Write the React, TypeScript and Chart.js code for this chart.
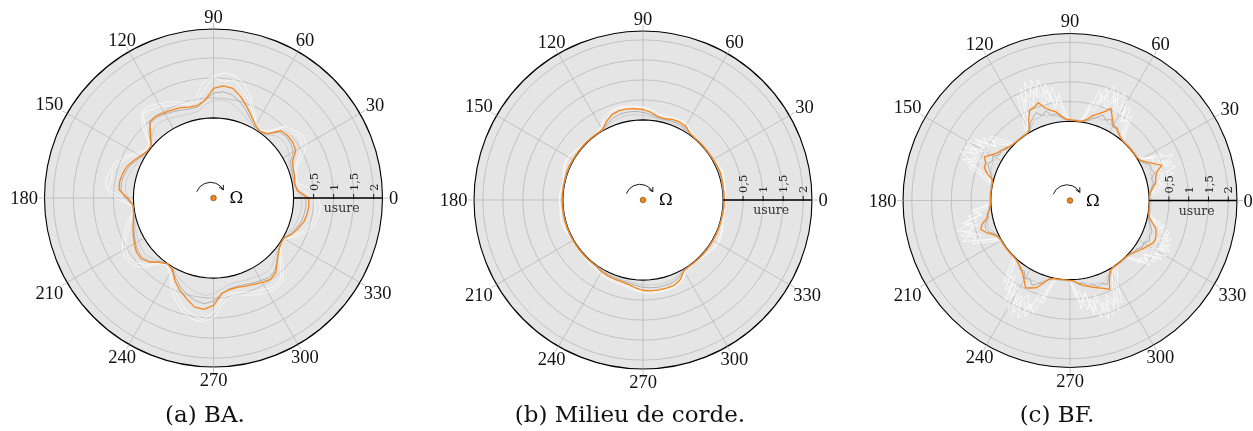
import React, { useEffect, useRef } from 'react';
import { Chart, registerables } from 'chart.js';

Chart.register(...registerables);

const W = 1253;
const H = 431;

// angular categories (degrees, counter-clockwise from the right)
const ANGLES_5: number[] = Array.from({ length: 72 }, (_, i) => i * 5);
const ANGLES_3: number[] = Array.from({ length: 120 }, (_, i) => i * 3);
const ANGLE_TICKS = [0, 30, 60, 90, 120, 150, 180, 210, 240, 270, 300, 330];
const WEAR_TICKS = [0.5, 1, 1.5, 2];
const WEAR_TICK_LABELS = ['0,5', '1', '1,5', '2'];
const WEAR_MIN = -2;
const WEAR_MAX = 2.22;
const PROFILE_WEAR = 0;
const AXIS_TITLE = 'usure';
const CAPTIONS = ['(a) BA.', '(b) Milieu de corde.', '(c) BF.'];

// ---------- (a) BA : 5 degree steps ----------
const BA_ORANGE = [
  0.38, 0.10, 0.06, 0.10, 0.12, 0.18, 0.37, 0.42, 0.42, 0.38, 0.10, 0.03,
  0.10, 0.25, 0.43, 0.62, 0.78, 0.81, 0.74, 0.45, 0.34, 0.35, 0.40, 0.43,
  0.46, 0.50, 0.48, 0.22, 0.03, 0.03, 0.10, 0.20, 0.30, 0.35, 0.38, 0.37,
  0.15, 0.02, 0.03, 0.07, 0.14, 0.21, 0.28, 0.35, 0.36, 0.26, 0.10, 0.01,
  0.06, 0.28, 0.45, 0.60, 0.76, 0.79, 0.68, 0.39, 0.32, 0.31, 0.34, 0.38,
  0.43, 0.48, 0.42, 0.25, 0.12, 0.04, 0.02, 0.15, 0.24, 0.33, 0.37, 0.39,
];
const BA_WHITE1 = [
  0.62, 0.45, 0.15, 0.12, 0.20, 0.45, 0.68, 0.72, 0.62, 0.55, 0.20, 0.05,
  0.15, 0.40, 0.70, 0.95, 1.10, 1.14, 1.05, 0.90, 0.55, 0.45, 0.55, 0.65,
  0.72, 0.80, 0.78, 0.50, 0.10, 0.08, 0.25, 0.45, 0.60, 0.68, 0.72, 0.70,
  0.45, 0.08, 0.05, 0.20, 0.35, 0.50, 0.62, 0.67, 0.62, 0.45, 0.15, 0.03,
  0.20, 0.50, 0.75, 0.95, 1.08, 1.10, 1.00, 0.65, 0.50, 0.50, 0.58, 0.66,
  0.72, 0.76, 0.70, 0.45, 0.20, 0.05, 0.05, 0.30, 0.48, 0.60, 0.66, 0.68,
];
const BA_WHITE2 = [
  0.50, 0.25, 0.10, 0.14, 0.16, 0.35, 0.55, 0.66, 0.50, 0.50, 0.14, 0.04,
  0.12, 0.32, 0.60, 0.78, 1.00, 0.92, 1.02, 0.70, 0.45, 0.40, 0.50, 0.55,
  0.65, 0.70, 0.74, 0.38, 0.06, 0.05, 0.18, 0.38, 0.50, 0.62, 0.58, 0.65,
  0.30, 0.05, 0.04, 0.14, 0.26, 0.42, 0.52, 0.60, 0.52, 0.36, 0.12, 0.02,
  0.14, 0.40, 0.62, 0.85, 0.96, 1.04, 0.86, 0.52, 0.42, 0.44, 0.50, 0.58,
  0.62, 0.70, 0.60, 0.36, 0.15, 0.04, 0.04, 0.22, 0.40, 0.52, 0.58, 0.56,
];
const BA_GRAY1 = [
  0.30, 0.12, 0.05, 0.06, 0.08, 0.12, 0.30, 0.36, 0.38, 0.33, 0.08, 0.02,
  0.06, 0.18, 0.35, 0.50, 0.62, 0.66, 0.62, 0.45, 0.30, 0.30, 0.34, 0.38,
  0.42, 0.46, 0.44, 0.28, 0.03, 0.02, 0.08, 0.16, 0.25, 0.30, 0.33, 0.32,
  0.20, 0.03, 0.02, 0.06, 0.12, 0.18, 0.25, 0.30, 0.32, 0.24, 0.08, 0.01,
  0.05, 0.22, 0.38, 0.50, 0.60, 0.65, 0.58, 0.40, 0.30, 0.28, 0.30, 0.34,
  0.38, 0.42, 0.38, 0.24, 0.10, 0.03, 0.02, 0.12, 0.20, 0.27, 0.30, 0.32,
];
const BA_GRAY2 = [
  0.20, 0.10, 0.04, 0.04, 0.05, 0.08, 0.18, 0.24, 0.25, 0.20, 0.06, 0.02,
  0.04, 0.10, 0.20, 0.32, 0.42, 0.46, 0.44, 0.34, 0.20, 0.18, 0.20, 0.24,
  0.28, 0.32, 0.30, 0.18, 0.03, 0.02, 0.05, 0.10, 0.15, 0.20, 0.22, 0.21,
  0.12, 0.02, 0.02, 0.04, 0.08, 0.12, 0.16, 0.20, 0.21, 0.15, 0.05, 0.01,
  0.03, 0.14, 0.24, 0.33, 0.40, 0.44, 0.40, 0.28, 0.20, 0.18, 0.20, 0.22,
  0.25, 0.28, 0.25, 0.15, 0.06, 0.02, 0.02, 0.08, 0.13, 0.17, 0.20, 0.21,
];

// ---------- (b) Milieu de corde : 5 degree steps ----------
const MC_ORANGE = [
  0.03, 0.03, 0.03, 0.04, 0.05, 0.04, 0.03, 0.02, 0.02, 0.02, 0.02, 0.04,
  0.13, 0.15, 0.14, 0.10, 0.12, 0.20, 0.26, 0.29, 0.31, 0.31, 0.27, 0.16,
  0.03, 0.02, 0.02, 0.02, 0.02, 0.02, 0.02, 0.03, 0.03, 0.02, 0.02, 0.02,
  0.02, 0.02, 0.02, 0.02, 0.02, 0.02, 0.02, 0.02, 0.02, 0.02, 0.02, 0.03,
  0.07, 0.09, 0.10, 0.11, 0.14, 0.20, 0.26, 0.28, 0.28, 0.28, 0.27, 0.20,
  0.04, 0.02, 0.02, 0.02, 0.02, 0.02, 0.02, 0.02, 0.02, 0.02, 0.02, 0.03,
];
const MC_WHITE1 = [
  0.06, 0.07, 0.08, 0.10, 0.12, 0.09, 0.05, 0.03, 0.03, 0.04, 0.06, 0.10,
  0.20, 0.22, 0.20, 0.17, 0.20, 0.28, 0.33, 0.36, 0.38, 0.40, 0.38, 0.30,
  0.10, 0.04, 0.03, 0.04, 0.06, 0.10, 0.16, 0.17, 0.12, 0.06, 0.05, 0.08,
  0.10, 0.08, 0.10, 0.12, 0.10, 0.05, 0.03, 0.03, 0.04, 0.06, 0.08, 0.10,
  0.14, 0.16, 0.17, 0.18, 0.22, 0.27, 0.32, 0.34, 0.34, 0.33, 0.32, 0.26,
  0.12, 0.05, 0.04, 0.06, 0.10, 0.14, 0.17, 0.16, 0.12, 0.07, 0.05, 0.05,
];
const MC_WHITE2 = [
  0.04, 0.05, 0.06, 0.08, 0.09, 0.07, 0.04, 0.02, 0.02, 0.03, 0.04, 0.07,
  0.16, 0.19, 0.17, 0.13, 0.16, 0.24, 0.30, 0.33, 0.35, 0.36, 0.33, 0.22,
  0.06, 0.03, 0.02, 0.03, 0.05, 0.08, 0.13, 0.14, 0.10, 0.05, 0.04, 0.06,
  0.08, 0.06, 0.08, 0.10, 0.08, 0.04, 0.02, 0.02, 0.03, 0.04, 0.05, 0.07,
  0.10, 0.12, 0.13, 0.14, 0.18, 0.23, 0.29, 0.31, 0.31, 0.31, 0.30, 0.23,
  0.08, 0.04, 0.03, 0.05, 0.08, 0.11, 0.14, 0.13, 0.09, 0.05, 0.04, 0.04,
];
const MC_GRAY1 = [
  0.02, 0.02, 0.02, 0.03, 0.03, 0.03, 0.02, 0.02, 0.02, 0.02, 0.02, 0.03,
  0.08, 0.10, 0.10, 0.08, 0.09, 0.14, 0.19, 0.22, 0.23, 0.22, 0.18, 0.10,
  0.02, 0.02, 0.02, 0.02, 0.02, 0.02, 0.02, 0.02, 0.02, 0.02, 0.02, 0.02,
  0.02, 0.02, 0.02, 0.02, 0.02, 0.02, 0.02, 0.02, 0.02, 0.02, 0.02, 0.02,
  0.04, 0.06, 0.07, 0.08, 0.10, 0.14, 0.18, 0.20, 0.21, 0.20, 0.19, 0.13,
  0.03, 0.02, 0.02, 0.02, 0.02, 0.02, 0.02, 0.02, 0.02, 0.02, 0.02, 0.02,
];
const MC_GRAY2 = [
  0.01, 0.01, 0.01, 0.02, 0.02, 0.02, 0.01, 0.01, 0.01, 0.01, 0.01, 0.02,
  0.05, 0.06, 0.06, 0.05, 0.06, 0.09, 0.12, 0.14, 0.15, 0.14, 0.11, 0.06,
  0.01, 0.01, 0.01, 0.01, 0.01, 0.01, 0.01, 0.01, 0.01, 0.01, 0.01, 0.01,
  0.01, 0.01, 0.01, 0.01, 0.01, 0.01, 0.01, 0.01, 0.01, 0.01, 0.01, 0.01,
  0.02, 0.04, 0.05, 0.05, 0.06, 0.09, 0.12, 0.13, 0.14, 0.13, 0.12, 0.08,
  0.02, 0.01, 0.01, 0.01, 0.01, 0.01, 0.01, 0.01, 0.01, 0.01, 0.01, 0.01,
];

// ---------- (c) BF : 3 degree steps ----------
const BF_ORANGE = [
  0.01, 0.01, 0.04, 0.13, 0.22, 0.24, 0.30, 0.48, 0.30, 0.15,
  0.04, 0.01, 0.01, 0.01, 0.01, 0.01, 0.01, 0.03, 0.10, 0.16,
  0.20, 0.35, 0.55, 0.40, 0.30, 0.22, 0.10, 0.03, 0.02, 0.03,
  0.04, 0.06, 0.15, 0.27, 0.33, 0.42, 0.60, 0.52, 0.50, 0.30,
  0.05, 0.01, 0.01, 0.01, 0.01, 0.02, 0.05, 0.10, 0.15, 0.20,
  0.30, 0.43, 0.33, 0.32, 0.20, 0.03, 0.01, 0.01, 0.01, 0.01,
  0.01, 0.01, 0.04, 0.10, 0.15, 0.30, 0.37, 0.26, 0.12, 0.03,
  0.01, 0.01, 0.01, 0.01, 0.01, 0.01, 0.02, 0.06, 0.12, 0.20,
  0.32, 0.48, 0.42, 0.36, 0.20, 0.06, 0.01, 0.01, 0.01, 0.01,
  0.02, 0.04, 0.12, 0.18, 0.22, 0.27, 0.32, 0.38, 0.46, 0.20,
  0.04, 0.01, 0.01, 0.01, 0.01, 0.01, 0.03, 0.08, 0.15, 0.22,
  0.28, 0.36, 0.37, 0.33, 0.28, 0.15, 0.05, 0.02, 0.01, 0.01,
];
const BF_WHITE1 = [
  0.03, 0.03, 0.08, 0.20, 0.60, 0.35, 0.80, 0.50, 0.85, 0.40,
  0.15, 0.03, 0.03, 0.03, 0.03, 0.03, 0.03, 0.08, 0.30, 0.80,
  0.50, 1.05, 0.70, 1.10, 0.60, 0.90, 0.30, 0.08, 0.03, 0.03,
  0.03, 0.08, 0.30, 0.90, 0.55, 1.15, 0.75, 1.20, 0.70, 0.95,
  0.20, 0.04, 0.03, 0.03, 0.03, 0.03, 0.08, 0.25, 0.70, 0.45,
  1.00, 0.60, 1.05, 0.55, 0.70, 0.15, 0.03, 0.03, 0.03, 0.03,
  0.03, 0.03, 0.20, 0.60, 0.40, 0.95, 0.60, 0.90, 0.45, 0.15,
  0.03, 0.03, 0.03, 0.03, 0.03, 0.03, 0.08, 0.30, 0.80, 0.50,
  1.15, 0.70, 1.25, 0.80, 1.00, 0.40, 0.10, 0.03, 0.03, 0.03,
  0.03, 0.20, 0.60, 0.40, 0.95, 0.60, 1.15, 0.70, 1.05, 0.60,
  0.30, 0.05, 0.03, 0.03, 0.03, 0.03, 0.15, 0.50, 0.35, 0.75,
  0.50, 0.82, 0.55, 0.75, 0.45, 0.35, 0.10, 0.03, 0.03, 0.03,
];
const BF_WHITE2 = [
  0.04, 0.04, 0.12, 0.35, 0.30, 0.70, 0.45, 0.75, 0.45, 0.60,
  0.10, 0.04, 0.04, 0.04, 0.04, 0.04, 0.04, 0.15, 0.50, 0.40,
  0.90, 0.60, 1.00, 0.65, 1.00, 0.50, 0.55, 0.12, 0.04, 0.04,
  0.04, 0.15, 0.55, 0.45, 1.00, 0.70, 1.20, 0.80, 1.10, 0.50,
  0.40, 0.06, 0.04, 0.04, 0.04, 0.04, 0.12, 0.45, 0.35, 0.85,
  0.55, 1.00, 0.60, 0.90, 0.40, 0.30, 0.04, 0.04, 0.04, 0.04,
  0.04, 0.04, 0.40, 0.30, 0.80, 0.50, 0.90, 0.55, 0.70, 0.30,
  0.04, 0.04, 0.04, 0.04, 0.04, 0.04, 0.12, 0.50, 0.45, 1.00,
  0.70, 1.20, 0.80, 1.15, 0.60, 0.70, 0.20, 0.04, 0.04, 0.04,
  0.04, 0.40, 0.30, 0.80, 0.55, 1.05, 0.70, 1.10, 0.70, 0.90,
  0.40, 0.20, 0.04, 0.04, 0.04, 0.04, 0.35, 0.30, 0.65, 0.45,
  0.80, 0.55, 0.80, 0.50, 0.65, 0.20, 0.20, 0.04, 0.04, 0.04,
];
const BF_WHITE3 = [
  0.03, 0.05, 0.25, 0.45, 0.25, 0.55, 0.30, 0.65, 0.30, 0.35,
  0.08, 0.03, 0.03, 0.03, 0.03, 0.03, 0.05, 0.25, 0.65, 0.35,
  0.75, 0.45, 0.85, 0.50, 0.80, 0.35, 0.40, 0.06, 0.03, 0.03,
  0.03, 0.25, 0.70, 0.35, 0.85, 0.50, 0.95, 0.60, 0.85, 0.35,
  0.15, 0.03, 0.03, 0.03, 0.03, 0.05, 0.30, 0.60, 0.30, 0.75,
  0.45, 0.85, 0.45, 0.75, 0.30, 0.10, 0.03, 0.03, 0.03, 0.03,
  0.03, 0.10, 0.50, 0.25, 0.70, 0.40, 0.75, 0.40, 0.55, 0.10,
  0.03, 0.03, 0.03, 0.03, 0.03, 0.05, 0.30, 0.65, 0.35, 0.85,
  0.55, 1.00, 0.60, 0.95, 0.45, 0.55, 0.08, 0.03, 0.03, 0.03,
  0.05, 0.30, 0.75, 0.35, 0.85, 0.45, 0.95, 0.55, 0.85, 0.35,
  0.15, 0.03, 0.03, 0.03, 0.03, 0.05, 0.25, 0.60, 0.30, 0.65,
  0.40, 0.70, 0.40, 0.65, 0.35, 0.50, 0.08, 0.03, 0.03, 0.03,
];
const BF_GRAY1 = [
  0.02, 0.02, 0.04, 0.08, 0.18, 0.12, 0.25, 0.20, 0.22, 0.10,
  0.03, 0.02, 0.02, 0.02, 0.02, 0.02, 0.02, 0.04, 0.08, 0.20,
  0.15, 0.30, 0.22, 0.32, 0.20, 0.15, 0.05, 0.02, 0.02, 0.02,
  0.02, 0.04, 0.10, 0.22, 0.18, 0.35, 0.25, 0.38, 0.30, 0.20,
  0.04, 0.02, 0.02, 0.02, 0.02, 0.02, 0.03, 0.06, 0.15, 0.12,
  0.25, 0.20, 0.28, 0.18, 0.10, 0.03, 0.02, 0.02, 0.02, 0.02,
  0.02, 0.02, 0.04, 0.12, 0.10, 0.22, 0.25, 0.20, 0.08, 0.02,
  0.02, 0.02, 0.02, 0.02, 0.02, 0.02, 0.02, 0.06, 0.15, 0.12,
  0.28, 0.22, 0.35, 0.25, 0.18, 0.05, 0.02, 0.02, 0.02, 0.02,
  0.02, 0.04, 0.12, 0.10, 0.22, 0.18, 0.30, 0.25, 0.32, 0.15,
  0.03, 0.01, 0.02, 0.02, 0.02, 0.02, 0.03, 0.10, 0.08, 0.18,
  0.15, 0.25, 0.20, 0.22, 0.15, 0.08, 0.03, 0.02, 0.02, 0.02,
];
const BF_GRAY2 = [
  0.05, 0.05, 0.06, 0.10, 0.12, 0.16, 0.14, 0.18, 0.12, 0.08,
  0.05, 0.04, 0.04, 0.04, 0.04, 0.05, 0.05, 0.07, 0.12, 0.14,
  0.20, 0.16, 0.24, 0.18, 0.22, 0.10, 0.08, 0.05, 0.05, 0.05,
  0.06, 0.08, 0.14, 0.15, 0.24, 0.20, 0.28, 0.22, 0.24, 0.12,
  0.06, 0.05, 0.04, 0.04, 0.04, 0.05, 0.06, 0.10, 0.10, 0.16,
  0.14, 0.18, 0.16, 0.14, 0.07, 0.05, 0.04, 0.04, 0.04, 0.04,
  0.04, 0.05, 0.07, 0.08, 0.14, 0.16, 0.18, 0.12, 0.06, 0.05,
  0.04, 0.04, 0.04, 0.04, 0.04, 0.05, 0.05, 0.08, 0.10, 0.18,
  0.20, 0.26, 0.22, 0.24, 0.12, 0.08, 0.05, 0.04, 0.04, 0.04,
  0.05, 0.06, 0.08, 0.14, 0.14, 0.22, 0.20, 0.24, 0.20, 0.12,
  0.06, 0.04, 0.04, 0.04, 0.04, 0.05, 0.06, 0.07, 0.12, 0.12,
  0.18, 0.16, 0.20, 0.14, 0.12, 0.06, 0.05, 0.05, 0.05, 0.05,
];

// ---------- styles ----------
const ORANGE = '#f7861a';
const BG = '#e5e5e5';
const GRID = '#bdbdbd';
const WHITE = '#ffffff';
const GRAY_DARK = '#9a9a9a';
const GRAY_LIGHT = '#c4c4c4';

type Series = { data: number[]; color: string; width: number };
type Panel = {
  key: string;
  cx: number;
  cy: number;
  R: number;
  angles: number[];
  series: Series[];
  caption: string;
  capX: number;
};

const PANELS: Panel[] = [
  {
    key: 'a', cx: 213.5, cy: 198, R: 169, angles: ANGLES_5, caption: CAPTIONS[0], capX: 205,
    series: [
      { data: BA_ORANGE, color: ORANGE, width: 1.3 },
      { data: BA_GRAY1, color: GRAY_DARK, width: 0.7 },
      { data: BA_GRAY2, color: GRAY_LIGHT, width: 0.7 },
      { data: BA_WHITE2, color: WHITE, width: 0.7 },
      { data: BA_WHITE1, color: WHITE, width: 0.7 },
    ],
  },
  {
    key: 'b', cx: 643, cy: 200, R: 169, angles: ANGLES_5, caption: CAPTIONS[1], capX: 630,
    series: [
      { data: MC_ORANGE, color: ORANGE, width: 1.3 },
      { data: MC_GRAY1, color: GRAY_DARK, width: 0.7 },
      { data: MC_GRAY2, color: GRAY_LIGHT, width: 0.7 },
      { data: MC_WHITE2, color: WHITE, width: 0.7 },
      { data: MC_WHITE1, color: WHITE, width: 0.7 },
    ],
  },
  {
    key: 'c', cx: 1070, cy: 200.5, R: 167, angles: ANGLES_3, caption: CAPTIONS[2], capX: 1057,
    series: [
      { data: BF_ORANGE, color: ORANGE, width: 1.3 },
      { data: BF_GRAY1, color: GRAY_DARK, width: 0.7 },
      { data: BF_GRAY2, color: GRAY_LIGHT, width: 0.7 },
      { data: BF_WHITE3, color: WHITE, width: 0.7 },
      { data: BF_WHITE2, color: WHITE, width: 0.7 },
      { data: BF_WHITE1, color: WHITE, width: 0.7 },
    ],
  },
];

const rad = (d: number) => (d * Math.PI) / 180;

function makeDeco(p: Panel) {
  return {
    id: 'deco_' + p.key,
    afterLayout(chart: any) {
      const s = chart.scales.r;
      s.xCenter = p.cx;
      s.yCenter = p.cy;
      s.drawingArea = p.R;
    },
    afterDatasetsDraw(chart: any) {
      const s = chart.scales.r;
      const ctx: CanvasRenderingContext2D = chart.ctx;
      const cx = s.xCenter;
      const cy = s.yCenter;
      const rOut = s.getDistanceFromCenterForValue(WEAR_MAX);
      const r0 = s.getDistanceFromCenterForValue(PROFILE_WEAR);
      ctx.save();
      ctx.lineCap = 'butt';

      // outer frame
      ctx.beginPath();
      ctx.arc(cx, cy, rOut, 0, Math.PI * 2);
      ctx.strokeStyle = '#000';
      ctx.lineWidth = 1.1;
      ctx.stroke();

      // angular ticks + labels
      const fs = 18.5;
      ctx.font = `${fs}px "Liberation Serif"`;
      ctx.fillStyle = '#111';
      ctx.textAlign = 'center';
      ctx.textBaseline = 'alphabetic';
      const digitH = fs * 0.676;
      for (const a of ANGLE_TICKS) {
        const t = rad(a);
        const c = Math.cos(t);
        const sn = Math.sin(t);
        ctx.beginPath();
        ctx.moveTo(cx + c * rOut, cy - sn * rOut);
        ctx.lineTo(cx + c * (rOut + 6), cy - sn * (rOut + 6));
        ctx.strokeStyle = GRID;
        ctx.lineWidth = 0.9;
        ctx.stroke();
        const txt = String(a);
        const w = ctx.measureText(txt).width;
        const hw = w / 2 + 1.5;
        const hh = digitH / 2 + 1.5;
        const d = Math.min(
          Math.abs(c) > 1e-6 ? hw / Math.abs(c) : 1e9,
          Math.abs(sn) > 1e-6 ? hh / Math.abs(sn) : 1e9
        );
        const pr = rOut + 5 + d;
        ctx.fillText(txt, cx + c * pr, cy - sn * pr + digitH / 2);
      }

      // wear axis
      ctx.strokeStyle = '#000';
      ctx.lineWidth = 1.4;
      ctx.beginPath();
      ctx.moveTo(cx + r0, cy);
      ctx.lineTo(cx + rOut, cy);
      ctx.stroke();
      ctx.lineWidth = 0.9;
      const tfs = 11.5;
      ctx.font = `${tfs}px "DejaVu Serif", serif`;
      ctx.textAlign = 'left';
      ctx.fillStyle = '#222';
      WEAR_TICKS.forEach((v, k) => {
        const x = cx + s.getDistanceFromCenterForValue(v);
        ctx.beginPath();
        ctx.moveTo(x, cy - 4);
        ctx.lineTo(x, cy + 1);
        ctx.stroke();
        ctx.save();
        ctx.translate(x + (tfs * 0.729) / 2, cy - 7);
        ctx.rotate(-Math.PI / 2);
        ctx.fillText(WEAR_TICK_LABELS[k], 0, 0);
        ctx.restore();
      });
      ctx.font = '12.5px "DejaVu Serif", serif';
      ctx.textAlign = 'center';
      ctx.fillStyle = '#333';
      ctx.fillText(AXIS_TITLE, cx + s.getDistanceFromCenterForValue(1.2), cy + 14);

      // centre: rotation arrow, dot, Omega
      const ax = cx - 3;
      const ay = cy - 1;
      const ar = 14.7;
      const a0 = rad(201);
      const a1 = rad(331);
      ctx.strokeStyle = '#000';
      ctx.lineWidth = 0.9;
      ctx.beginPath();
      ctx.arc(ax, ay, ar, a0, a1);
      ctx.stroke();
      const tx = ax + ar * Math.cos(a1);
      const ty = ay + ar * Math.sin(a1);
      const dir = Math.atan2(Math.cos(a1), -Math.sin(a1));
      ctx.beginPath();
      for (const sg of [1, -1]) {
        const ang = dir + Math.PI + sg * 0.5;
        ctx.moveTo(tx, ty);
        ctx.lineTo(tx + 5 * Math.cos(ang), ty + 5 * Math.sin(ang));
      }
      ctx.stroke();

      ctx.beginPath();
      ctx.arc(cx, cy, 2.8, 0, Math.PI * 2);
      ctx.fillStyle = ORANGE;
      ctx.fill();
      ctx.strokeStyle = '#5a3a10';
      ctx.lineWidth = 0.6;
      ctx.stroke();

      ctx.font = '16.5px "DejaVu Serif", serif';
      ctx.textAlign = 'left';
      ctx.fillStyle = '#000';
      ctx.fillText('\u03A9', cx + 16, cy + 5.2);

      ctx.restore();
    },
  };
}

function PolarPanel({ panel }: { panel: Panel }) {
  const ref = useRef<HTMLCanvasElement | null>(null);
  useEffect(() => {
    const canvas = ref.current;
    if (!canvas) return;
    const n = panel.angles.length;
    // radar runs clockwise from startAngle; reorder so angles run counter-clockwise
    const rev = (arr: any[]) => arr.map((_, i) => arr[(n - i) % n]);
    const labels = rev(panel.angles);
    const datasets: any[] = panel.series.map((s) => ({
      data: rev(s.data),
      borderColor: s.color,
      borderWidth: s.width,
      pointRadius: 0,
      fill: false,
      tension: 0,
      borderJoinStyle: 'round',
    }));
    datasets.push({
      data: panel.angles.map(() => PROFILE_WEAR),
      borderColor: '#000',
      borderWidth: 1.1,
      backgroundColor: '#ffffff',
      fill: 'start',
      pointRadius: 0,
      tension: 0,
    });
    const isMajor = (i: number) => labels[i] % 30 === 0;
    const chart = new Chart(canvas, {
      type: 'radar',
      data: { labels, datasets },
      options: {
        responsive: false,
        maintainAspectRatio: false,
        animation: false,
        events: [],
        layout: { padding: 0 },
        plugins: { legend: { display: false }, tooltip: { enabled: false } },
        scales: {
          r: {
            min: WEAR_MIN,
            max: WEAR_MAX,
            startAngle: 90,
            bounds: 'data',
            backgroundColor: BG,
            grid: { circular: true, color: GRID, lineWidth: 0.9 },
            angleLines: {
              display: true,
              color: (c: any) => (isMajor(c.index) ? GRID : 'rgba(0,0,0,0)'),
              lineWidth: (c: any) => (isMajor(c.index) ? 0.9 : 0),
            },
            pointLabels: { display: false },
            ticks: { display: false, stepSize: 0.5, includeBounds: false },
          },
        },
      } as any,
      plugins: [makeDeco(panel)],
    });
    return () => chart.destroy();
  }, [panel]);
  return (
    <canvas
      ref={ref}
      width={W}
      height={H}
      style={{ position: 'absolute', left: 0, top: 0, width: W, height: H }}
    />
  );
}

export default function App() {
  return (
    <div style={{ position: 'absolute', left: 0, top: 0, width: W, height: H, background: '#fff', overflow: 'hidden' }}>
      {PANELS.map((p) => (
        <PolarPanel key={p.key} panel={p} />
      ))}
      {PANELS.map((p) => (
        <div
          key={'cap' + p.key}
          style={{
            position: 'absolute',
            left: p.capX - 200,
            width: 400,
            top: 403,
            textAlign: 'center',
            font: '23px "DejaVu Serif", serif',
            lineHeight: '23px',
            color: '#111',
            whiteSpace: 'nowrap',
          }}
        >
          {p.caption}
        </div>
      ))}
    </div>
  );
}
